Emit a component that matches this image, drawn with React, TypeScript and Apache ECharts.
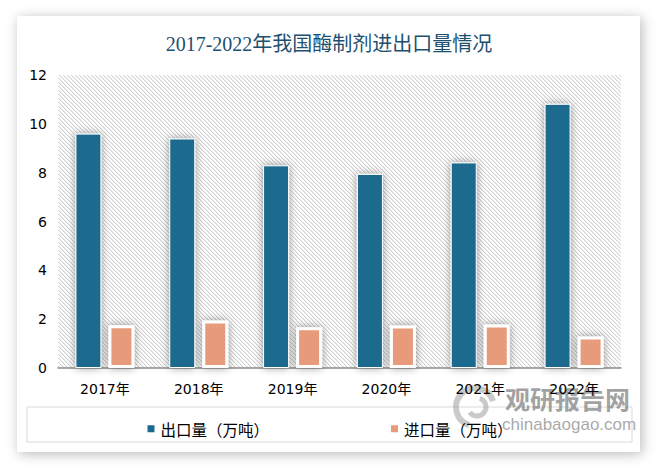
import React, { useEffect, useRef } from "react";
import * as echarts from "echarts";

const titleText = "2017-2022年我国酶制剂进出口量情况";
const categories = ["2017年", "2018年", "2019年", "2020年", "2021年", "2022年"];
const seriesNames = ["出口量（万吨）", "进口量（万吨）"];
const exportValues = [9.6, 9.4, 8.3, 7.95, 8.42, 10.82];
const importValues = [1.75, 1.95, 1.67, 1.74, 1.78, 1.29];
const yMin = 0;
const yMax = 12;
const yInterval = 2;
const watermarkCn = "观研报告网";
const watermarkEn = "chinabaogao.com";

function makeHatch(): string {
  const c = document.createElement("canvas");
  c.width = 4;
  c.height = 4;
  const ctx = c.getContext("2d")!;
  ctx.fillStyle = "#ffffff";
  ctx.fillRect(0, 0, 4, 4);
  for (let i = 0; i < 4; i++) {
    ctx.fillStyle = "#d3d3d3";
    ctx.fillRect(i, i, 1, 1);
    ctx.fillStyle = "#efefef";
    ctx.fillRect((i + 1) % 4, i, 1, 1);
  }
  return c.toDataURL();
}

export default function App() {
  const ref = useRef<HTMLDivElement>(null);
  useEffect(() => {
    if (!ref.current) return;
    const chart = echarts.init(ref.current, undefined, { renderer: "svg" });
    const hatch = makeHatch();
    const labelFont = '"DejaVu Sans", "Noto Sans CJK SC", sans-serif';
    chart.setOption({
      animation: false,
      title: {
        text: titleText,
        left: "center",
        top: 29,
        textStyle: {
          fontSize: 20,
          fontWeight: "normal",
          color: "#1d5070",
          fontFamily: '"Liberation Serif", "Noto Sans CJK SC", serif',
        },
      },
      grid: {
        left: 58,
        right: 37,
        top: 75,
        bottom: 101,
        show: true,
        borderWidth: 0,
        backgroundColor: {
          image: hatch,
          repeat: "repeat",
          imageWidth: 4,
          imageHeight: 4,
        } as any,
      },
      legend: {
        data: seriesNames,
        top: 416,
        left: "center",
        icon: "rect",
        itemWidth: 9,
        itemHeight: 9,
        itemGap: 120,
        textStyle: {
          fontSize: 15.5,
          color: "#000",
          fontFamily: '"Noto Sans CJK SC", sans-serif',
        },
      },
      xAxis: {
        type: "category",
        data: categories,
        axisTick: { show: false },
        axisLine: { lineStyle: { color: "#8c8c8c", width: 1.5 } },
        axisLabel: { color: "#000", fontSize: 14, margin: 14, fontFamily: labelFont },
      },
      yAxis: {
        type: "value",
        min: yMin,
        max: yMax,
        interval: yInterval,
        splitLine: { show: false },
        axisLine: { show: false },
        axisTick: { show: false },
        axisLabel: { color: "#000", fontSize: 14, margin: 11, fontFamily: labelFont },
      },
      series: [
        {
          type: "bar",
          name: seriesNames[0],
          data: exportValues,
          barWidth: 26,
          barGap: "27%",
          itemStyle: {
            color: "#1b6a8e",
            borderColor: "#ffffff",
            borderWidth: 1,
            shadowBlur: 9,
            shadowColor: "rgba(0,0,0,0.4)",
          },
        },
        {
          type: "bar",
          name: seriesNames[1],
          data: importValues,
          barWidth: 26,
          barGap: "27%",
          itemStyle: {
            color: "#e89b7a",
            borderColor: "#ffffff",
            borderWidth: 3,
            shadowBlur: 9,
            shadowColor: "rgba(0,0,0,0.4)",
          },
        },
      ],
      graphic: [
        {
          type: "rect",
          z: -1,
          shape: { x: 27, y: 407, width: 605, height: 35 },
          style: { fill: "none", stroke: "#d9d9d9", lineWidth: 1 },
        },
        {
          type: "group",
          z: 100,
          children: [
            {
              type: "arc",
              shape: { cx: 475, cy: 407, r: 19, startAngle: Math.PI * 0.6, endAngle: Math.PI * 1.9 },
              style: { stroke: "rgba(150,150,150,0.5)", lineWidth: 6, fill: "none" },
            },
            {
              type: "arc",
              shape: { cx: 477, cy: 407, r: 9, startAngle: Math.PI * 1.6, endAngle: Math.PI * 2.8 },
              style: { stroke: "rgba(150,150,150,0.5)", lineWidth: 5, fill: "none" },
            },
            {
              type: "text",
              x: 505,
              y: 398,
              style: {
                text: watermarkCn,
                fontSize: 25,
                fontWeight: "bold",
                fill: "rgba(120,120,120,0.7)",
                fontFamily: '"Noto Sans CJK SC", sans-serif',
                verticalAlign: "middle",
              },
            },
            {
              type: "text",
              x: 502,
              y: 424,
              style: {
                text: watermarkEn,
                fontSize: 17,
                fill: "rgba(130,130,130,0.7)",
                fontFamily: '"Liberation Sans", sans-serif',
                verticalAlign: "middle",
              },
            },
          ],
        },
      ],
    });
    return () => chart.dispose();
  }, []);

  return (
    <div style={{ position: "fixed", left: 0, top: 0, width: 658, height: 469, background: "#ffffff", overflow: "hidden" }}>
      <div
        style={{
          position: "absolute",
          left: 17,
          top: 16,
          width: 623,
          height: 436,
          background: "#ffffff",
          boxShadow: "2px 2px 12px rgba(0,0,0,0.28)",
        }}
      />
      <div ref={ref} style={{ position: "absolute", left: 0, top: 0, width: 658, height: 469 }} />
    </div>
  );
}
